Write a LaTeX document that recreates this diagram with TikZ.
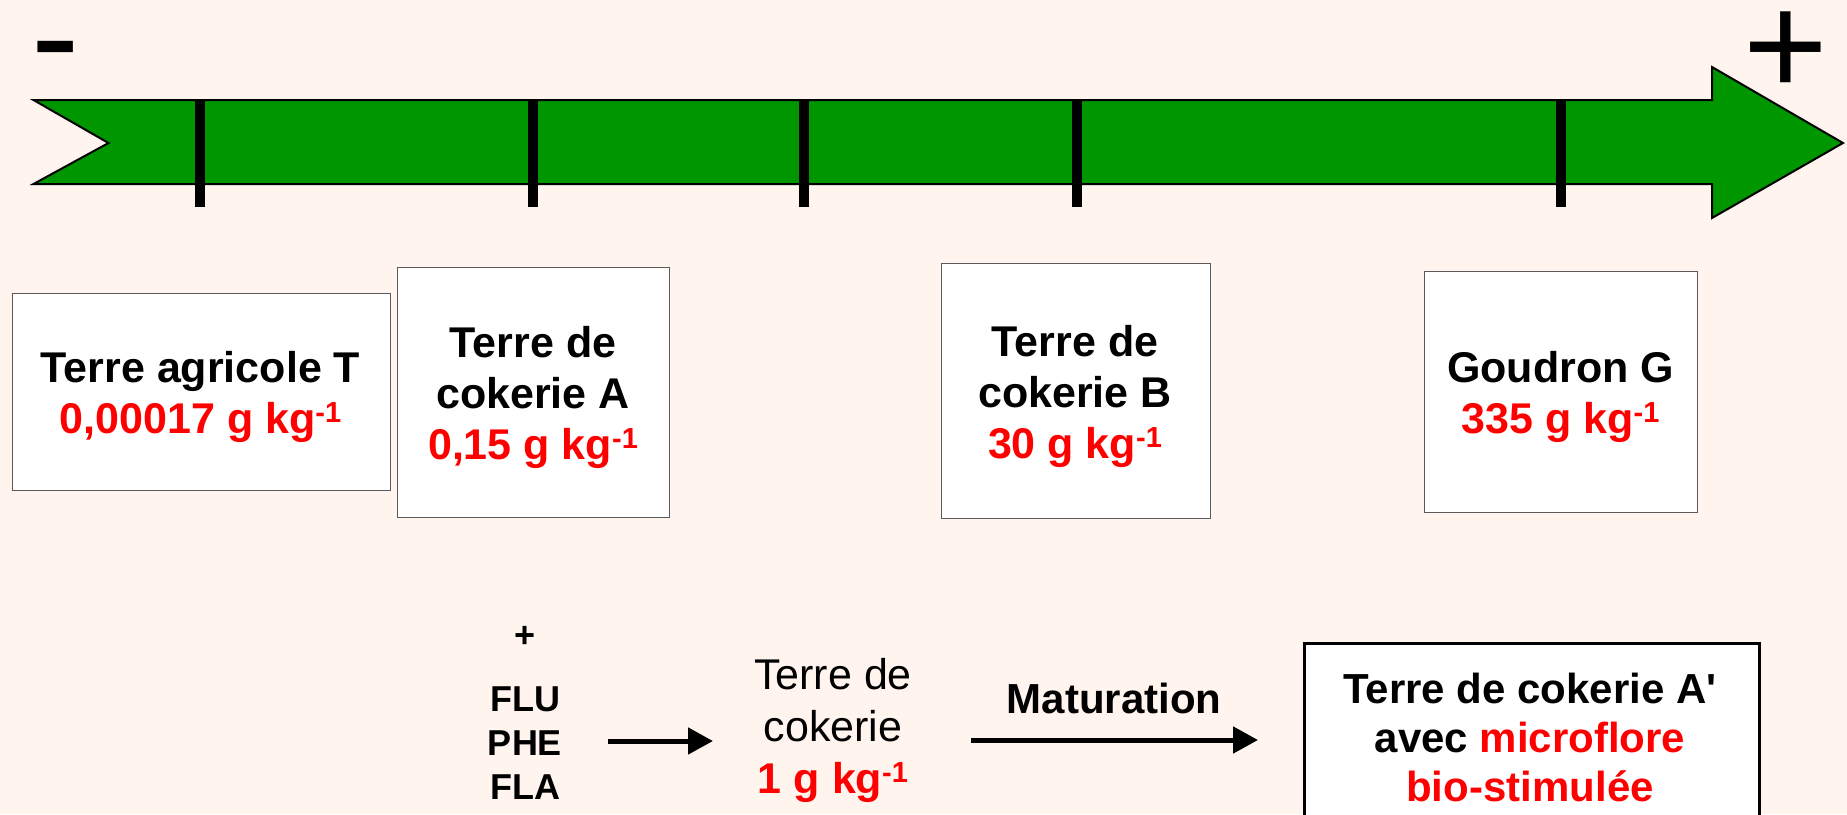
\documentclass[tikz,border=0pt]{standalone}
\usepackage{fontspec}
\setmainfont{Liberation Sans}
\usetikzlibrary{arrows.meta}
\definecolor{bgc}{RGB}{255,245,238}
\definecolor{arrgreen}{RGB}{0,150,0}
\definecolor{boxline}{RGB}{90,90,90}
\newcommand{\fsz}[2]{\fontsize{#1}{#2}\selectfont}
\newcommand{\kgsup}{\raisebox{11pt}{\fontsize{29}{29}\selectfont -1}}
\begin{document}
\begin{tikzpicture}[x=1pt,y=-1pt,
  conc/.style={draw=boxline, line width=1.2pt, fill=white, inner sep=0pt, anchor=north west},
  lbl/.style={inner sep=0pt, anchor=base, align=center, font=\bfseries\fsz{43}{51}},
  tickmark/.style={line width=10pt},
  sign/.style={inner sep=0pt, anchor=base west, font=\fsz{145}{145}},
  flow/.style={line width=5pt, -{Triangle[length=25pt,width=26pt]}}]
\fill[bgc] (0,0) rectangle (1847,814);
\useasboundingbox (0,0) rectangle (1847,814);
% big arrow
\draw[fill=arrgreen, line width=2pt, line join=miter]
  (33.5,100) -- (1712,100) -- (1712,67) -- (1843,143) -- (1712,218) -- (1712,184)
  -- (33.5,184) -- (108.5,143) -- cycle;
\foreach \xx in {199.5,532.6,804,1077,1561}
  \draw[tickmark] (\xx,100) -- (\xx,207);
\node[sign] (minus) at (31.6,85.5) {-};
\node[sign] (plus) at (1743,95) {+};
% boxes
\node[conc, minimum width=378, minimum height=197] (boxT) at (11.5,293) {};
\node[conc, minimum width=272.3, minimum height=250] (boxA) at (396.7,266.7) {};
\node[conc, minimum width=268.8, minimum height=255] (boxB) at (940.7,263) {};
\node[conc, minimum width=273, minimum height=241] (boxG) at (1424,271) {};
% anchor=base of a multi-line node is the baseline of its last line
\node[lbl] (txtT) at (200.5,433) {Terre agricole T\\\textcolor{red}{0,00017 g kg\kgsup}};
\node[lbl] (txtA) at (533,459) {Terre de\\cokerie A\\\textcolor{red}{0,15 g kg\kgsup}};
\node[lbl] (txtB) at (1075,458) {Terre de\\cokerie B\\\textcolor{red}{30 g kg\kgsup}};
\node[lbl] (txtG) at (1560.5,433) {Goudron G\\\textcolor{red}{335 g kg\kgsup}};
% bottom row
\node[inner sep=0pt, anchor=base, font=\bfseries\fsz{36}{44}] (plussm) at (525,647) {+};
\node[inner sep=0pt, anchor=base, align=center, font=\bfseries\fsz{36}{44}] (hap) at (525,799) {FLU\\PHE\\FLA};
\node[inner sep=0pt, anchor=base, align=center, font=\fsz{43}{52}] (soil) at (833,793) {Terre de\\cokerie\\\textcolor{red}{\bfseries 1 g kg\kgsup}};
\node[inner sep=0pt, anchor=base, font=\bfseries\fsz{42}{49}] (mat) at (1114,713) {Maturation};
\node[draw=black, line width=3pt, fill=white, inner sep=0pt, anchor=north west,
  minimum width=454.5, minimum height=200] (boxAp) at (1303,641.7) {};
\node[inner sep=0pt, anchor=base, align=center, font=\bfseries\fsz{42}{49}] (txtAp) at (1530,801)
  {Terre de cokerie A\textquotesingle\\avec \textcolor{red}{microflore}\\\textcolor{red}{bio-stimulée}};
\coordinate (a1s) at (608,741);
\coordinate (a1e) at (713,741);
\coordinate (a2s) at (971,740);
\coordinate (a2e) at (1258,740);
\draw[flow] (a1s) -- (a1e);
\draw[flow] (a2s) -- (a2e);
\end{tikzpicture}
\end{document}
